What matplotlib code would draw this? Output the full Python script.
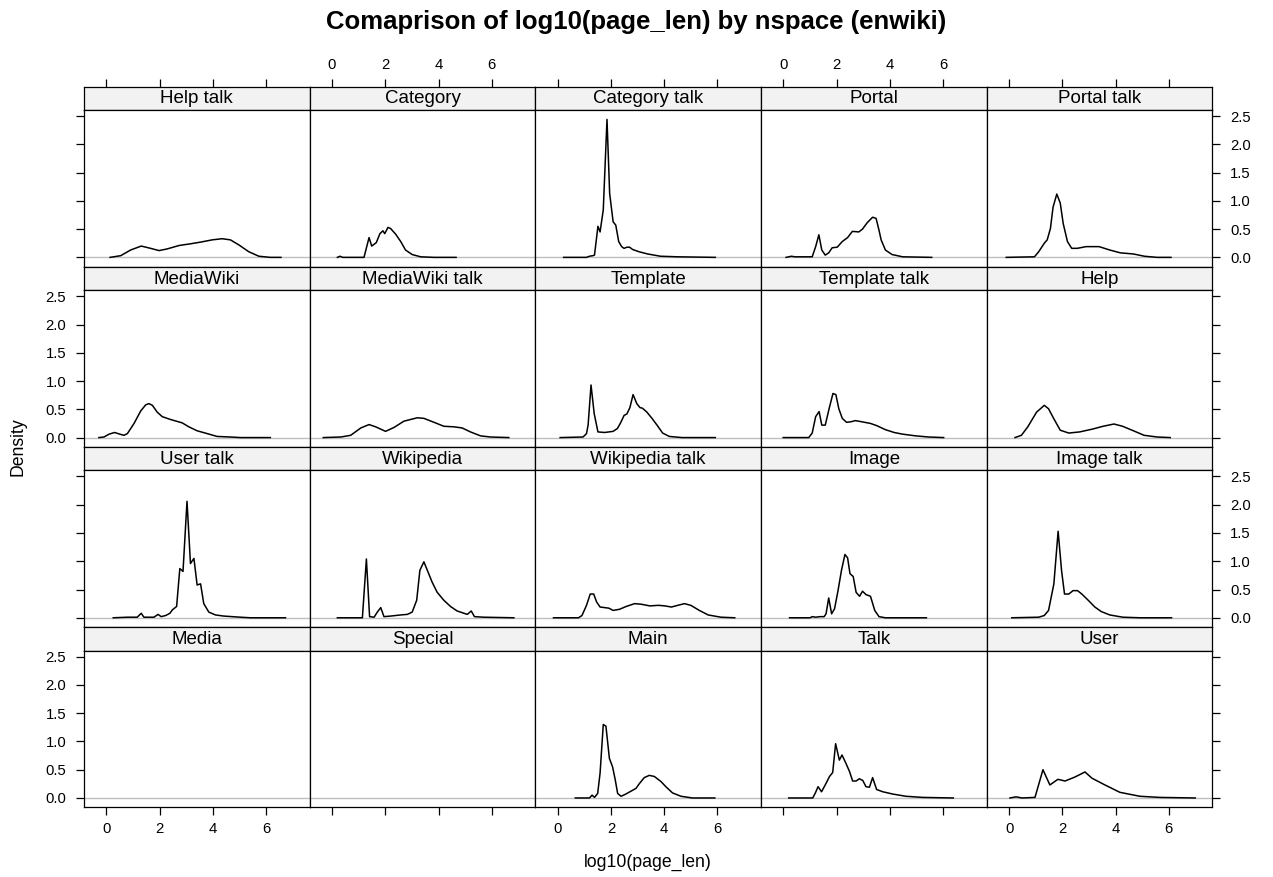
import matplotlib
matplotlib.use('Agg')
import matplotlib.pyplot as plt

plt.rcParams['font.family'] = ['Liberation Sans', 'DejaVu Sans']

# ---------------- data ----------------
title = "Comaprison of log10(page_len) by nspace (enwiki)"
xlabel = "log10(page_len)"
ylabel = "Density"
x_ticks = [0, 2, 4, 6]
y_ticks = [0.0, 0.5, 1.0, 1.5, 2.0, 2.5]
y_tick_labels = ["0.0", "0.5", "1.0", "1.5", "2.0", "2.5"]

panel_names = ["Help talk", "Category", "Category talk", "Portal", "Portal talk",
               "MediaWiki", "MediaWiki talk", "Template", "Template talk", "Help",
               "User talk", "Wikipedia", "Wikipedia talk", "Image", "Image talk",
               "Media", "Special", "Main", "Talk", "User"]

help_talk_x = [0.14, 0.54, 0.91, 1.31, 1.66, 1.98, 2.29, 2.73, 3.16, 3.54, 3.98, 4.35, 4.66, 4.98, 5.35, 5.73, 6.16, 6.56]
help_talk_y = [0, 0.03, 0.13, 0.20, 0.16, 0.12, 0.15, 0.21, 0.24, 0.27, 0.31, 0.33, 0.31, 0.22, 0.10, 0.02, 0, 0]

category_x = [0.2, 0.3, 0.4, 1.2, 1.39, 1.49, 1.66, 1.8, 1.91, 1.98, 2.1, 2.2, 2.39, 2.58, 2.76, 3.01, 3.33, 3.83, 4.66]
category_y = [0, 0.02, 0, 0, 0.35, 0.20, 0.26, 0.42, 0.47, 0.42, 0.53, 0.51, 0.41, 0.28, 0.13, 0.05, 0.01, 0, 0]

category_talk_x = [0.22, 1.08, 1.19, 1.32, 1.38, 1.51, 1.59, 1.71, 1.85, 1.95, 2.08, 2.18, 2.29, 2.40, 2.49, 2.60, 2.70, 2.81, 3.05, 3.38, 3.86, 4.51, 5.92]
category_talk_y = [0, 0, 0.02, 0.03, 0.04, 0.55, 0.45, 0.84, 2.44, 1.13, 0.63, 0.57, 0.28, 0.19, 0.16, 0.18, 0.18, 0.14, 0.10, 0.06, 0.02, 0.01, 0]

portal_x = [0.10, 0.30, 0.43, 1.08, 1.21, 1.33, 1.44, 1.57, 1.70, 1.83, 2.02, 2.21, 2.41, 2.59, 2.83, 2.97, 3.14, 3.35, 3.48, 3.59, 3.67, 3.83, 4.08, 4.48, 5.57]
portal_y = [0, 0.02, 0.01, 0.01, 0.19, 0.40, 0.13, 0.04, 0.08, 0.17, 0.18, 0.28, 0.35, 0.46, 0.45, 0.50, 0.61, 0.71, 0.69, 0.48, 0.31, 0.13, 0.05, 0.01, 0]

portal_talk_x = [-0.11, 0.95, 1.11, 1.32, 1.43, 1.55, 1.65, 1.79, 1.92, 2.03, 2.19, 2.35, 2.56, 2.89, 3.38, 3.78, 4.18, 4.67, 5.08, 5.56, 6.08]
portal_talk_y = [0, 0.01, 0.10, 0.25, 0.31, 0.51, 0.89, 1.12, 0.96, 0.60, 0.28, 0.16, 0.16, 0.19, 0.19, 0.13, 0.08, 0.06, 0.02, 0, 0]

mediawiki_x = [-0.28, -0.09, 0.1, 0.31, 0.51, 0.66, 0.79, 1.04, 1.29, 1.48, 1.6, 1.73, 1.91, 2.1, 2.41, 2.85, 3.1, 3.41, 3.79, 4.16, 4.66, 5.04, 6.16]
mediawiki_y = [0, 0.01, 0.06, 0.09, 0.06, 0.04, 0.07, 0.25, 0.47, 0.58, 0.60, 0.57, 0.45, 0.37, 0.32, 0.26, 0.19, 0.12, 0.07, 0.02, 0.01, 0, 0]

mediawiki_talk_x = [-0.33, 0.33, 0.7, 1.08, 1.39, 1.64, 2.01, 2.33, 2.7, 3.2, 3.45, 3.83, 4.2, 4.58, 4.89, 5.2, 5.58, 5.95, 6.64]
mediawiki_talk_y = [0, 0.01, 0.04, 0.17, 0.23, 0.19, 0.11, 0.18, 0.29, 0.35, 0.34, 0.27, 0.20, 0.19, 0.17, 0.10, 0.03, 0.01, 0]

template_x = [0.09, 0.95, 1.08, 1.14, 1.25, 1.37, 1.51, 1.76, 2.08, 2.24, 2.36, 2.49, 2.6, 2.71, 2.83, 2.97, 3.09, 3.18, 3.35, 3.54, 3.73, 3.94, 4.19, 4.67, 5.92]
template_y = [0, 0.01, 0.07, 0.22, 0.93, 0.42, 0.10, 0.09, 0.11, 0.16, 0.26, 0.39, 0.42, 0.53, 0.76, 0.60, 0.53, 0.52, 0.45, 0.34, 0.22, 0.08, 0.02, 0, 0]

template_talk_x = [-0.01, 0.95, 1.08, 1.21, 1.34, 1.44, 1.57, 1.73, 1.86, 1.97, 2.08, 2.21, 2.37, 2.54, 2.7, 2.94, 3.27, 3.51, 3.83, 4.16, 4.48, 4.97, 5.45, 6.02]
template_talk_y = [0, 0, 0.08, 0.37, 0.46, 0.22, 0.22, 0.54, 0.78, 0.76, 0.51, 0.34, 0.27, 0.28, 0.30, 0.28, 0.25, 0.21, 0.14, 0.09, 0.06, 0.03, 0.01, 0]

help_x = [0.22, 0.46, 0.70, 1.03, 1.32, 1.48, 1.67, 1.92, 2.24, 2.65, 3.13, 3.53, 3.94, 4.26, 4.67, 5.07, 5.56, 6.05]
help_y = [0, 0.04, 0.19, 0.45, 0.57, 0.51, 0.34, 0.13, 0.08, 0.10, 0.15, 0.20, 0.24, 0.20, 0.12, 0.04, 0.01, 0]

user_talk_x = [0.26, 0.79, 1.16, 1.31, 1.41, 1.79, 1.94, 2.06, 2.23, 2.39, 2.48, 2.64, 2.76, 2.88, 3.03, 3.16, 3.29, 3.41, 3.54, 3.66, 3.85, 4.1, 4.41, 5.04, 5.41, 6.73]
user_talk_y = [0, 0.01, 0.01, 0.08, 0.01, 0.01, 0.06, 0.02, 0.04, 0.08, 0.14, 0.20, 0.87, 0.82, 2.06, 0.96, 1.05, 0.58, 0.60, 0.25, 0.10, 0.05, 0.03, 0.01, 0, 0]

wikipedia_x = [0.2, 1.14, 1.29, 1.41, 1.58, 1.7, 1.83, 1.95, 2.2, 2.58, 2.83, 3.01, 3.18, 3.3, 3.45, 3.58, 3.76, 3.95, 4.2, 4.45, 4.7, 5.08, 5.23, 5.35, 5.7, 6.83]
wikipedia_y = [0, 0, 1.04, 0.02, 0.01, 0.10, 0.18, 0.02, 0.03, 0.05, 0.06, 0.10, 0.31, 0.84, 0.99, 0.84, 0.63, 0.45, 0.31, 0.20, 0.12, 0.06, 0.12, 0.02, 0.01, 0]

wikipedia_talk_x = [-0.16, 0.78, 0.91, 1.08, 1.22, 1.35, 1.46, 1.59, 1.76, 1.92, 2.08, 2.32, 2.57, 2.89, 3.13, 3.46, 3.78, 4.03, 4.27, 4.51, 4.76, 5.0, 5.32, 5.65, 6.13, 6.65]
wikipedia_talk_y = [0, 0, 0.04, 0.22, 0.42, 0.42, 0.28, 0.19, 0.18, 0.17, 0.13, 0.15, 0.20, 0.25, 0.24, 0.21, 0.22, 0.21, 0.19, 0.22, 0.25, 0.22, 0.13, 0.05, 0.01, 0]

image_x = [0.23, 1.0, 1.08, 1.21, 1.37, 1.53, 1.6, 1.7, 1.81, 1.92, 2.05, 2.18, 2.31, 2.41, 2.5, 2.62, 2.73, 2.86, 2.97, 3.1, 3.27, 3.43, 3.59, 3.83, 5.37]
image_y = [0, 0, 0.02, 0.01, 0.02, 0.02, 0.07, 0.35, 0.07, 0.16, 0.48, 0.84, 1.12, 1.06, 0.78, 0.73, 0.45, 0.38, 0.47, 0.41, 0.38, 0.13, 0.02, 0, 0]

image_talk_x = [0.1, 1.11, 1.32, 1.48, 1.68, 1.84, 1.97, 2.08, 2.24, 2.40, 2.57, 2.73, 2.97, 3.22, 3.46, 3.78, 4.27, 4.92, 6.1]
image_talk_y = [0, 0.01, 0.04, 0.13, 0.60, 1.53, 0.83, 0.42, 0.42, 0.48, 0.48, 0.42, 0.31, 0.19, 0.11, 0.05, 0.01, 0, 0]

media_x = []
media_y = []

special_x = []
special_y = []

main_x = [0.66, 1.19, 1.29, 1.38, 1.5, 1.59, 1.71, 1.81, 1.94, 2.06, 2.16, 2.25, 2.38, 2.56, 2.75, 2.94, 3.06, 3.25, 3.44, 3.63, 3.88, 4.06, 4.31, 4.63, 5.06, 5.9]
main_y = [0, 0, 0.05, 0.01, 0.08, 0.44, 1.30, 1.27, 0.70, 0.55, 0.32, 0.08, 0.03, 0.07, 0.12, 0.17, 0.25, 0.36, 0.40, 0.38, 0.29, 0.20, 0.09, 0.03, 0, 0]

talk_x = [0.2, 1.1, 1.2, 1.3, 1.43, 1.58, 1.73, 1.85, 1.96, 2.1, 2.2, 2.35, 2.48, 2.6, 2.73, 2.85, 2.98, 3.1, 3.23, 3.35, 3.5, 3.73, 4.1, 4.6, 5.23, 6.38]
talk_y = [0, 0, 0.09, 0.20, 0.11, 0.24, 0.38, 0.45, 0.96, 0.67, 0.76, 0.61, 0.47, 0.30, 0.30, 0.34, 0.31, 0.20, 0.19, 0.36, 0.15, 0.11, 0.07, 0.03, 0.01, 0]

user_x = [0.03, 0.26, 0.48, 0.97, 1.27, 1.53, 1.83, 2.1, 2.47, 2.85, 3.11, 3.6, 4.16, 4.91, 5.66, 6.99]
user_y = [0, 0.02, 0, 0.01, 0.50, 0.23, 0.33, 0.30, 0.37, 0.46, 0.35, 0.23, 0.10, 0.03, 0.01, 0]

panel_x = [help_talk_x, category_x, category_talk_x, portal_x, portal_talk_x,
           mediawiki_x, mediawiki_talk_x, template_x, template_talk_x, help_x,
           user_talk_x, wikipedia_x, wikipedia_talk_x, image_x, image_talk_x,
           media_x, special_x, main_x, talk_x, user_x]
panel_y = [help_talk_y, category_y, category_talk_y, portal_y, portal_talk_y,
           mediawiki_y, mediawiki_talk_y, template_y, template_talk_y, help_y,
           user_talk_y, wikipedia_y, wikipedia_talk_y, image_y, image_talk_y,
           media_y, special_y, main_y, talk_y, user_y]

# ---------------- layout ----------------
W, H = 1273, 877
fig = plt.figure(figsize=(W / 100, H / 100), dpi=100)

XLIM = (-0.84, 7.64)
YLIM = (-0.165, 2.607)
LEFT0, TOP0 = 84.0, 86.7
PW, PITCH, STRIP_H, PH = 225.7, 180.2, 23.3, 156.7
NCOL, NROW = 5, 4

TICK_FS = 10.7
STRIP_FS = 13.5
FRAME = '#000000'
TICKLEN = 5.8


def frac(x, y, w, h):
    return [x / W, 1 - (y + h) / H, w / W, h / H]


def style_frame(ax):
    for s in ax.spines.values():
        s.set_color(FRAME)
        s.set_linewidth(0.9)


for i, name in enumerate(panel_names):
    r, c = divmod(i, NCOL)
    x0 = LEFT0 + c * PW
    ys = TOP0 + r * PITCH
    sax = fig.add_axes(frac(x0, ys, PW, STRIP_H))
    ax = fig.add_axes(frac(x0, ys + STRIP_H, PW, PH))

    # strip
    sax.set_facecolor('#f2f2f2')
    sax.set_xlim(*XLIM)
    sax.set_ylim(0, 1)
    sax.set_yticks([])
    sax.text(0.5, 0.48, name, transform=sax.transAxes, ha='center', va='center',
             fontsize=STRIP_FS, color='black')
    style_frame(sax)
    if r == 0:
        sax.set_xticks(x_ticks)
        sax.tick_params(axis='x', which='both', bottom=False, labelbottom=False,
                        top=True, labeltop=(c % 2 == 1), direction='out',
                        length=TICKLEN, width=0.9, pad=5, labelsize=TICK_FS)
    else:
        sax.set_xticks([])

    # panel
    ax.set_xlim(*XLIM)
    ax.set_ylim(*YLIM)
    style_frame(ax)
    ax.axhline(0, color='#bebebe', lw=1.0, zorder=1)
    if len(panel_x[i]) > 0:
        ax.plot(panel_x[i], panel_y[i], color='black', lw=1.1, zorder=2)

    # x ticks
    if r == NROW - 1:
        ax.set_xticks(x_ticks)
        ax.tick_params(axis='x', bottom=True, labelbottom=(c % 2 == 0), top=False,
                       direction='out', length=TICKLEN, width=0.9, pad=5,
                       labelsize=TICK_FS)
    else:
        ax.set_xticks([])

    # y ticks
    left_side = (c == 0)
    right_side = (c == NCOL - 1)
    if left_side or right_side:
        ax.set_yticks(y_ticks)
        ax.set_yticklabels(y_tick_labels)
        ax.tick_params(axis='y', left=left_side, right=right_side,
                       labelleft=left_side and (r % 2 == 1),
                       labelright=right_side and (r % 2 == 0),
                       direction='out', length=TICKLEN, width=0.9, pad=7,
                       labelsize=TICK_FS)
    else:
        ax.set_yticks([])

# titles
fig.text(636.5 / W, 1 - 22 / H, title, ha='center', va='center',
         fontsize=18.5, fontweight='bold')
grid_cx = LEFT0 + NCOL * PW / 2
grid_cy = TOP0 + (NROW * PITCH - (PITCH - STRIP_H - PH)) / 2
fig.text(grid_cx / W, 1 - 862 / H, xlabel, ha='center', va='center', fontsize=12.7)
fig.text(18 / W, 1 - grid_cy / H, ylabel, ha='center', va='center',
         rotation=90, fontsize=12.7)

fig.savefig('out.png', dpi=100)
